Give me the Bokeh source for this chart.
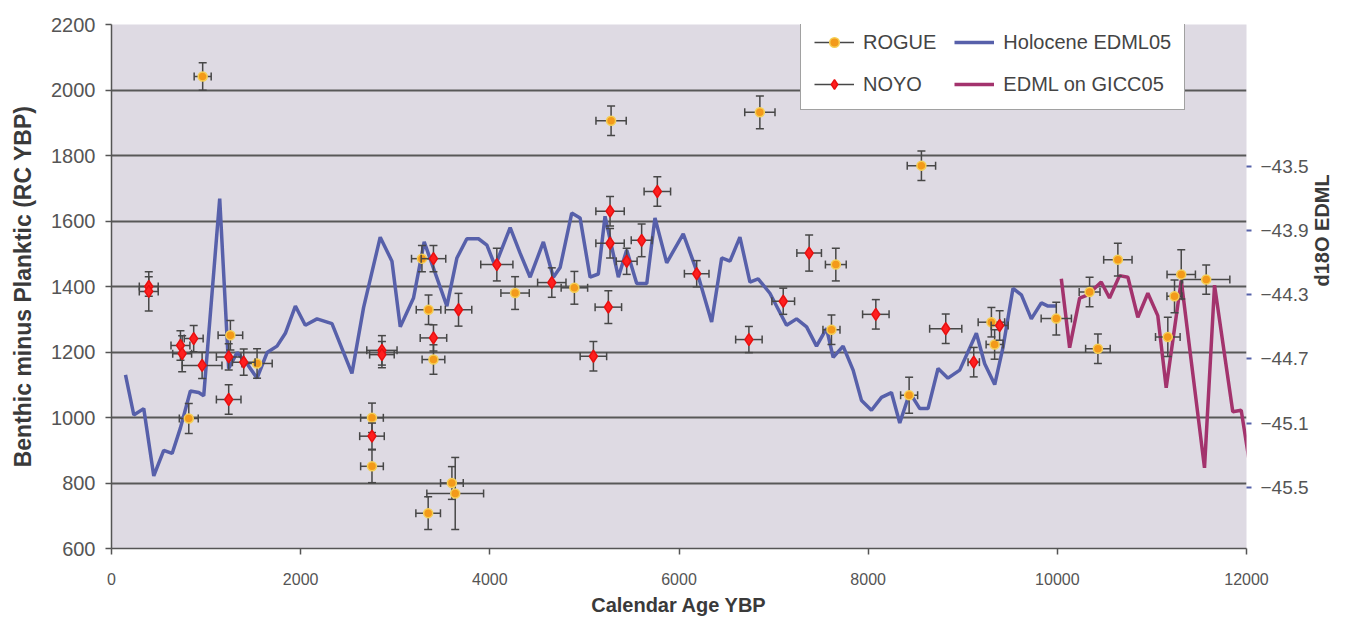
from bokeh.plotting import figure
from bokeh.models import Range1d, LinearAxis, FixedTicker, Legend, LegendItem, ColumnDataSource
from bokeh.embed import file_html
from bokeh.resources import INLINE
import numpy as np

# ---------------- data ----------------
x_ticks = [0, 2000, 4000, 6000, 8000, 10000, 12000]
y_ticks = [600, 800, 1000, 1200, 1400, 1600, 1800, 2000, 2200]
d18o_ticks = [-45.5, -45.1, -44.7, -44.3, -43.9, -43.5]

holo_age = [148, 236, 341, 447, 552, 641, 729, 834, 922, 975, 1144, 1239, 1328, 1433, 1539, 1645,
            1750, 1838, 1944, 2049, 2173, 2331, 2542, 2665, 2841, 2965, 3053, 3193, 3306, 3546,
            3652, 3757, 3880, 3969, 4056, 4215, 4320, 4426, 4566, 4672, 4743, 4866, 4954, 5060,
            5147, 5218, 5359, 5447, 5553, 5659, 5746, 5870, 6045, 6187, 6345, 6451, 6539, 6644,
            6750, 6837, 6961, 7137, 7243, 7349, 7454, 7560, 7630, 7735, 7841, 7930, 8035, 8141,
            8246, 8334, 8440, 8546, 8633, 8739, 8844, 8968, 9144, 9232, 9338, 9425, 9531, 9620,
            9725, 9831, 9901, 9990]
holo_d18o = [-44.80, -45.05, -45.01, -45.43, -45.27, -45.29, -45.13, -44.90, -44.91, -44.93,
             -43.70, -44.76, -44.66, -44.73, -44.82, -44.66, -44.62, -44.54, -44.37, -44.49,
             -44.45, -44.48, -44.79, -44.38, -43.94, -44.09, -44.50, -44.32, -43.97, -44.37,
             -44.07, -43.95, -43.95, -43.99, -44.12, -43.88, -44.04, -44.19, -43.97, -44.19,
             -44.13, -43.79, -43.82, -44.19, -44.17, -43.81, -44.19, -44.02, -44.23, -44.23,
             -43.82, -44.10, -43.92, -44.15, -44.47, -44.07, -44.09, -43.94, -44.22, -44.20,
             -44.29, -44.49, -44.45, -44.50, -44.62, -44.51, -44.69, -44.62, -44.77, -44.96,
             -45.02, -44.94, -44.91, -45.10, -44.91, -45.01, -45.01, -44.76, -44.82, -44.77,
             -44.54, -44.73, -44.86, -44.63, -44.26, -44.30, -44.45, -44.35, -44.37, -44.37]

edml_age = [10042, 10130, 10236, 10323, 10464, 10552, 10658, 10746, 10851, 10957, 11062, 11151,
            11310, 11556, 11662, 11855, 11944, 12040]
edml_d18o = [-44.20, -44.63, -44.32, -44.30, -44.22, -44.32, -44.18, -44.19, -44.44, -44.29,
             -44.43, -44.88, -44.21, -45.38, -44.24, -45.03, -45.02, -45.38]

rogue_age = [964, 817, 1257, 1539, 2754, 2754, 3282, 3352, 3404, 3348, 3599, 3634, 4267, 4894,
             5282, 6855, 7658, 7612, 8563, 8433, 9303, 9337, 9989, 10341, 10640, 10429, 11168,
             11239, 11310, 11574]
rogue_val = [2041, 997, 1251, 1165, 999, 851, 1485, 1329, 1177, 708, 800, 768, 1380, 1396,
             1906, 1932, 1467, 1268, 1769, 1068, 1291, 1223, 1302, 1383, 1482, 1210, 1246,
             1370, 1437, 1421]
rogue_xerr = [90, 100, 130, 160, 120, 120, 110, 130, 120, 130, 120, 300, 150, 140,
              160, 160, 110, 90, 150, 90, 140, 90, 160, 110, 150, 130, 130,
              80, 150, 250]
rogue_yerr = [42, 46, 45, 45, 45, 50, 40, 45, 45, 50, 50, 110, 50, 50,
              45, 50, 50, 45, 45, 55, 45, 45, 50, 45, 50, 45, 60,
              50, 75, 45]

noyo_age = [394, 394, 729, 747, 869, 958, 1239, 1398, 1239, 2859, 2859, 2754, 3669, 3404,
            3404, 4074, 4655, 5253, 5095, 6187, 5271, 5771, 5605, 5271, 5447, 7376, 7102,
            6739, 8081, 8820, 9116, 9390]
noyo_val = [1400, 1385, 1220, 1195, 1241, 1159, 1185, 1169, 1055, 1205, 1192, 943, 1329, 1243,
            1485, 1467, 1412, 1337, 1187, 1439, 1630, 1690, 1541, 1532, 1477, 1502, 1355,
            1238, 1315, 1271, 1169, 1281]
noyo_xerr = [100, 100, 100, 100, 100, 210, 130, 120, 130, 160, 130, 130, 140, 140,
             130, 170, 150, 140, 140, 130, 150, 140, 110, 150, 110, 130, 120,
             140, 140, 170, 60, 90]
noyo_yerr = [30, 60, 45, 55, 40, 40, 40, 40, 45, 45, 40, 40, 50, 40,
             40, 50, 45, 50, 45, 40, 45, 45, 50, 45, 40, 55, 40,
             40, 45, 45, 45, 45]

FONT = "Liberation Sans"
ERR_COLOR = "#474747"

p = figure(width=1346, height=630,
           x_range=Range1d(0, 12000), y_range=Range1d(600, 2200),
           output_backend="svg", toolbar_location=None,
           min_border_left=111, min_border_right=99, min_border_top=24, min_border_bottom=82)
p.extra_y_ranges = {"d18o": Range1d(-45.883, -42.613)}

p.background_fill_color = "#dedae3"
p.border_fill_color = "white"
p.outline_line_color = None

p.xgrid.visible = False
p.ygrid.grid_line_color = "#585858"
p.ygrid.grid_line_width = 2

p.xaxis.ticker = FixedTicker(ticks=x_ticks)
p.yaxis.ticker = FixedTicker(ticks=y_ticks)
for ax in (p.xaxis[0], p.yaxis[0]):
    ax.axis_line_color = "#555555"
    ax.axis_line_width = 1.5
    ax.major_tick_line_color = "#555555"
    ax.major_tick_line_width = 1.5
    ax.major_tick_out = 6
    ax.major_tick_in = 0
    ax.minor_tick_line_color = None
    ax.major_label_text_font = FONT
    ax.major_label_text_color = "#555555"
    ax.axis_label_text_font = FONT
    ax.axis_label_text_font_style = "bold"
    ax.axis_label_text_color = "#3a3a3a"

p.xaxis.major_label_text_font_size = "16px"
p.xaxis.major_label_standoff = 18
p.yaxis.major_label_text_font_size = "20px"
p.yaxis.major_label_standoff = 10
p.xaxis.axis_label_text_font_size = "20px"
p.yaxis.axis_label_text_font_size = "23px"
p.xaxis.axis_label = "Calendar Age YBP"
p.yaxis.axis_label = "Benthic minus Planktic (RC YBP)"
p.xaxis.axis_label_standoff = 6
p.yaxis.axis_label_standoff = 12

rax = LinearAxis(y_range_name="d18o", ticker=FixedTicker(ticks=d18o_ticks), axis_label="d18O EDML")
rax.axis_line_color = None
rax.major_tick_line_color = "#5560a8"
rax.major_tick_line_width = 2
rax.major_tick_out = 5
rax.major_tick_in = 0
rax.minor_tick_line_color = None
rax.major_label_standoff = 9
rax.major_label_text_font = FONT
rax.major_label_text_font_size = "19px"
rax.major_label_text_color = "#555555"
rax.axis_label_text_font = FONT
rax.axis_label_text_font_style = "bold"
rax.axis_label_text_color = "#3a3a3a"
rax.axis_label_text_font_size = "20px"
rax.axis_label_standoff = 10
rax.axis_label_orientation = np.pi / 2
p.add_layout(rax, "right")

# ---------------- lines ----------------
edml_r = p.line(edml_age, edml_d18o, y_range_name="d18o", line_color="#a3336d", line_width=3.5)
holo_r = p.line(holo_age, holo_d18o, y_range_name="d18o", line_color="#5760aa", line_width=3.5)

# ---------------- points with error bars ----------------
def add_series(age, val, xerr, yerr, marker, size, fill, line):
    a = np.array(age, float); v = np.array(val, float)
    xe = np.array(xerr, float); ye = np.array(yerr, float)
    src = ColumnDataSource(dict(x=a, y=v, xl=a - xe, xu=a + xe, yl=v - ye, yu=v + ye))
    p.segment(x0="xl", y0="y", x1="xu", y1="y", source=src, line_color=ERR_COLOR, line_width=1.5)
    p.segment(x0="x", y0="yl", x1="x", y1="yu", source=src, line_color=ERR_COLOR, line_width=1.5)
    p.scatter(x="x", y="yl", source=src, marker="dash", size=8, line_color=ERR_COLOR, line_width=1.5)
    p.scatter(x="x", y="yu", source=src, marker="dash", size=8, line_color=ERR_COLOR, line_width=1.5)
    p.scatter(x="xl", y="y", source=src, marker="dash", angle=np.pi / 2, size=8, line_color=ERR_COLOR, line_width=1.5)
    p.scatter(x="xu", y="y", source=src, marker="dash", angle=np.pi / 2, size=8, line_color=ERR_COLOR, line_width=1.5)
    return p.scatter(x="x", y="y", source=src, marker=marker, size=size,
                     fill_color=fill, line_color=line, line_width=1.5)

rogue_r = add_series(rogue_age, rogue_val, rogue_xerr, rogue_yerr, "circle", 9, "#f39a1a", "#f5cf55")
noyo_r = add_series(noyo_age, noyo_val, noyo_xerr, noyo_yerr, "diamond", 12, "#ff1f1f", "#e81010")

# legend-only helper: NaN positions so nothing is drawn in the plot area
nan = float("nan")
leg_h = p.segment(x0=[nan], y0=[nan], x1=[nan], y1=[nan], line_color=ERR_COLOR, line_width=1.5)

legend = Legend(items=[
    LegendItem(label="ROGUE", renderers=[leg_h, rogue_r]),
    LegendItem(label="NOYO", renderers=[leg_h, noyo_r]),
    LegendItem(label="Holocene EDML05", renderers=[holo_r]),
    LegendItem(label="EDML on GICC05", renderers=[edml_r]),
], location=(689, 438), ncols=2)
legend.label_text_font = FONT
legend.label_text_font_size = "20px"
legend.label_text_color = "#444444"
legend.glyph_width = 40
legend.glyph_height = 24
legend.spacing = 18
legend.padding = 13
legend.margin = 0
legend.label_standoff = 9
legend.border_line_color = "#444444"
legend.border_line_width = 1.5
legend.background_fill_color = "white"
legend.background_fill_alpha = 1.0
p.add_layout(legend, "center")

open("out.html", "w").write(file_html(p, INLINE))
